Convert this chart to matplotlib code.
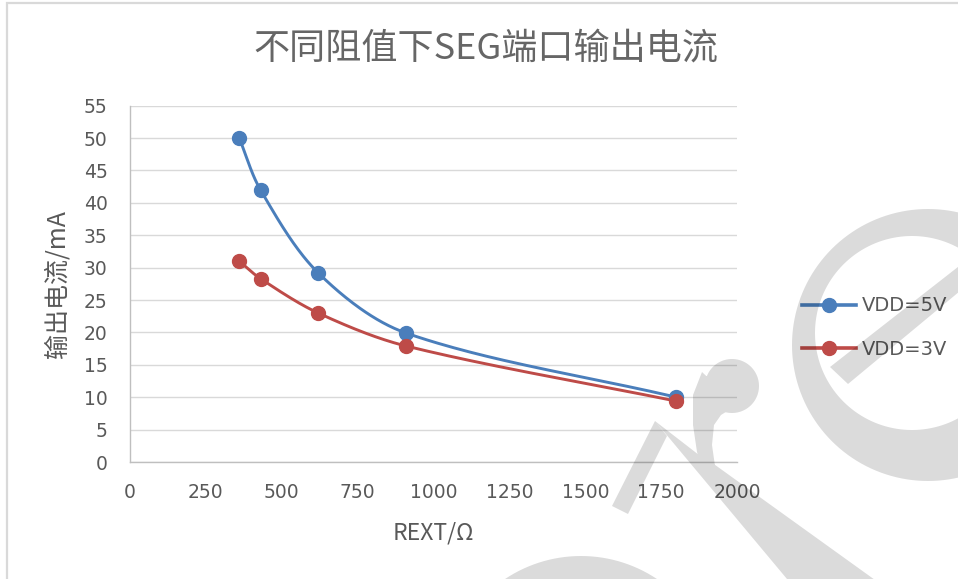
import numpy as np
import matplotlib
matplotlib.use("Agg")
import matplotlib.pyplot as plt
from matplotlib.path import Path
from matplotlib.patches import PathPatch, Rectangle
from matplotlib.lines import Line2D

# ---- data -------------------------------------------------------------
rext = [360, 430, 620, 910, 1800]            # external resistor, ohm
i_5v = [50.0, 42.0, 29.2, 19.9, 10.0]         # SEG current at VDD=5V, mA
i_3v = [31.0, 28.3, 23.0, 17.9, 9.4]          # SEG current at VDD=3V, mA
series_labels = ["VDD=5V", "VDD=3V"]
x_ticks = list(range(0, 2001, 250))
y_ticks = list(range(0, 56, 5))
title = "不同阻值下SEG端口输出电流"
x_label = "REXT/Ω"
y_label = "输出电流/mA"

# ---- style ------------------------------------------------------------
W, H = 958, 579
TEXT = "#595959"
GRID = "#d9d9d9"
BLUE = "#4a7ebb"
RED = "#be4b48"
CJK = ["Noto Sans CJK SC", "DejaVu Sans"]
AX_L, AX_R, AX_B, AX_T = 130, 737, 462, 105.7     # plot area in pixels
XMAX, YMAX = 2000, 55


def smooth(xs, ys, n=50, k=0.32):
    """Smoothed line through every point: cubic Bezier segments whose
    control arms follow the neighbour direction, sized by the chord length
    (worked out in screen proportions so the curve never kinks)."""
    sx = (AX_R - AX_L) / XMAX
    sy = (AX_B - AX_T) / YMAX
    p = np.column_stack([np.asarray(xs, float) * sx, np.asarray(ys, float) * sy])
    m = len(p)
    tang = np.empty_like(p)
    for i in range(m):
        a = p[max(i - 1, 0)]
        b = p[min(i + 1, m - 1)]
        d = b - a
        tang[i] = d / np.hypot(*d)
    t = np.linspace(0, 1, n)[:, None]
    out = []
    for i in range(m - 1):
        p0, p3 = p[i], p[i + 1]
        L = np.hypot(*(p3 - p0))
        c1 = p0 + tang[i] * L * k
        c2 = p3 - tang[i + 1] * L * k
        seg = ((1 - t) ** 3) * p0 + 3 * ((1 - t) ** 2) * t * c1 \
            + 3 * (1 - t) * (t ** 2) * c2 + (t ** 3) * p3
        out.append(seg if i == 0 else seg[1:])
    c = np.vstack(out)
    return c[:, 0] / sx, c[:, 1] / sy


fig = plt.figure(figsize=(W / 100, H / 100), dpi=100)
fig.patch.set_facecolor("white")

# chart-area frame (only the top and left edges fall inside the image)
fig.add_artist(Rectangle((7 / W, -0.2), 2.0, 1.2 - 3 / H,
                         transform=fig.transFigure, fill=False,
                         edgecolor=GRID, linewidth=1.6))

ax = fig.add_axes([AX_L / W, 1 - AX_B / H, (AX_R - AX_L) / W, (AX_B - AX_T) / H])
ax.set_xlim(0, XMAX)
ax.set_ylim(0, YMAX)
ax.set_xticks(x_ticks)
ax.set_yticks(y_ticks)
ax.tick_params(length=0, labelsize=13.5, labelcolor=TEXT)
ax.tick_params(axis="y", pad=16)
ax.tick_params(axis="x", pad=15)
ax.grid(axis="y", color=GRID, linewidth=1.0)
ax.set_axisbelow(True)
for side in ("top", "right"):
    ax.spines[side].set_visible(False)
for side in ("left", "bottom"):
    ax.spines[side].set_color("#bfbfbf")
    ax.spines[side].set_linewidth(1.0)
ax.patch.set_alpha(0)

handles = []
for ys, color, lab in ((i_5v, BLUE, series_labels[0]), (i_3v, RED, series_labels[1])):
    cx, cy = smooth(rext, ys)
    ax.plot(cx, cy, color=color, linewidth=2.1, solid_capstyle="round", zorder=3)
    ax.plot(rext, ys, linestyle="none", marker="o", markersize=10,
            color=color, zorder=4)
    handles.append(Line2D([], [], color=color, linewidth=2.6, marker="o",
                          markersize=10, label=lab))

fig.legend(handles=handles, loc="center left",
           bbox_to_anchor=(802 / W, 1 - 327.5 / H), frameon=False,
           fontsize=14, labelcolor=TEXT, handlelength=2.8,
           handletextpad=0.3, labelspacing=1.25, numpoints=1,
           borderaxespad=0, borderpad=0)

fig.text(486 / W, 1 - 49 / H, title, ha="center", va="center",
         fontsize=26, color="#666666", family=CJK, fontweight="light")
fig.text(58 / W, 1 - 284 / H, y_label, ha="center", va="center",
         rotation=90, fontsize=18, color=TEXT, family=CJK)
fig.text(433 / W, 1 - 533 / H, x_label, ha="center", va="center",
         fontsize=16.5, color=TEXT, family=CJK)

# ---- light grey logo watermark laid over the chart --------------------
wm = fig.add_axes([0, 0, 1, 1], zorder=10)
wm.set_xlim(0, W)
wm.set_ylim(H, 0)
wm.axis("off")
wm.patch.set_alpha(0)


def oriented(pts, positive=True):
    pts = np.asarray(pts, float)
    x, y = pts[:, 0], pts[:, 1]
    area = 0.5 * np.sum(x * np.roll(y, -1) - np.roll(x, -1) * y)
    if (area > 0) != positive:
        pts = pts[::-1]
    return pts


def ellipse(cx, cy, rx, ry, n=160):
    th = np.linspace(0, 2 * np.pi, n, endpoint=False)
    return np.column_stack([cx + rx * np.cos(th), cy + ry * np.sin(th)])


shapes = [
    # ring with its diagonal bar
    oriented(ellipse(928, 345, 136, 136)),
    oriented(ellipse(912, 333, 97, 97), positive=False),
    oriented([(830, 367), (848, 384), (995, 262), (995, 238)]),
    # peaked stroke: left leg, widening right leg
    oriented([(612, 506), (628, 514), (667, 436), (655, 421)]),
    oriented([(655, 421), (699, 455), (711, 462), (882, 585), (792, 585)]),
    # hook with round head
    oriented(ellipse(732, 386, 27, 27)),
    oriented([(702, 372), (693, 395), (693, 425), (697, 452), (704, 472),
              (715, 466), (712, 445), (714, 425), (721, 415), (737, 405)]),
    # round shape at the lower edge
    oriented(ellipse(581, 693, 137, 137)),
]
verts, codes = [], []
for s in shapes:
    verts.extend(s.tolist())
    verts.append(s[0].tolist())
    codes.extend([Path.MOVETO] + [Path.LINETO] * (len(s) - 1) + [Path.CLOSEPOLY])
wm.add_patch(PathPatch(Path(verts, codes), facecolor="black", edgecolor="none",
                       alpha=0.14))

fig.savefig("out.png", dpi=100)
